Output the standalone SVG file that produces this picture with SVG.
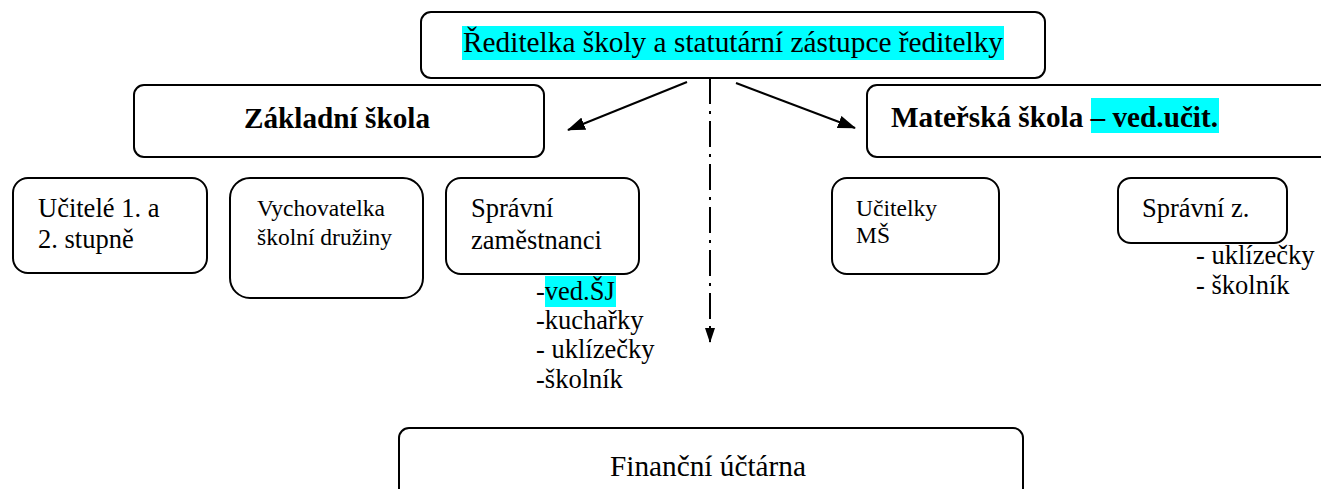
<svg xmlns="http://www.w3.org/2000/svg" width="1321" height="489" viewBox="0 0 1321 489">
<defs>
<style>
.box{fill:#fff;stroke:#000;stroke-width:2}
.t{font-family:'Liberation Serif','Times New Roman',serif;fill:#000}
.big{font-size:29.3px}
.mid{font-size:26.5px}
.sm{font-size:23.5px}
.b{font-weight:bold}
.hl{fill:#00ffff}
.con{stroke:#000;stroke-width:2;fill:none}
</style>
<marker id="ah" markerWidth="18" markerHeight="13" refX="17" refY="6.5" orient="auto" markerUnits="userSpaceOnUse" viewBox="0 0 18 13">
<path d="M0,0 L18,6.5 L0,13 z" fill="#000"/>
</marker>
<marker id="ahs" markerWidth="15" markerHeight="10" refX="14" refY="5" orient="auto" markerUnits="userSpaceOnUse" viewBox="0 0 15 10">
<path d="M0,0 L15,5 L0,10 z" fill="#000"/>
</marker>
</defs>
<rect width="1321" height="489" fill="#fff"/>
<g id="connectors">
<line class="con" x1="687" y1="82" x2="568" y2="130" marker-end="url(#ah)"/>
<line class="con" x1="736" y1="83" x2="855" y2="128" marker-end="url(#ah)"/>
<line class="con" x1="710" y1="78" x2="710" y2="342" stroke-dasharray="26,7,3,7" marker-end="url(#ahs)"/>
</g>
<g id="reditelka">
<rect class="box" x="421" y="12" width="624" height="66" rx="10"/>
<rect class="hl" x="462" y="26" width="542" height="34"/>
<text class="t big" x="463" y="52" textLength="540" lengthAdjust="spacingAndGlyphs">Ředitelka školy a statutární zástupce ředitelky</text>
</g>
<g id="zakladni">
<rect class="box" x="134" y="85" width="410" height="72" rx="10"/>
<text class="t big b" x="244" y="128" textLength="186" lengthAdjust="spacingAndGlyphs">Základní škola</text>
</g>
<g id="materska">
<rect class="box" x="867" y="85" width="470" height="72" rx="10"/>
<rect class="hl" x="1091" y="98" width="128" height="35"/>
<text class="t big b" x="891" y="127" textLength="327" lengthAdjust="spacingAndGlyphs">Mateřská škola – ved.učit.</text>
</g>
<g id="ucitele">
<rect class="box" x="13" y="178" width="194" height="95" rx="15"/>
<text class="t mid" x="38" y="217">Učitelé 1. a</text>
<text class="t mid" x="38" y="248">2. stupně</text>
</g>
<g id="vychovatelka">
<rect class="box" x="230" y="178" width="193" height="120" rx="20"/>
<text class="t sm" x="257" y="216">Vychovatelka</text>
<text class="t sm" x="257" y="245">školní družiny</text>
</g>
<g id="spravni">
<rect class="box" x="446" y="178" width="193" height="96" rx="15"/>
<text class="t mid" x="471" y="217">Správní</text>
<text class="t mid" x="471" y="249">zaměstnanci</text>
</g>
<g id="spravni-list">
<rect class="hl" x="545" y="276" width="71" height="31"/>
<text class="t mid" x="536" y="300">-ved.ŠJ</text>
<text class="t mid" x="536" y="329">-kuchařky</text>
<text class="t mid" x="536" y="358">- uklízečky</text>
<text class="t mid" x="536" y="388">-školník</text>
</g>
<g id="ucitelky">
<rect class="box" x="832" y="178" width="167" height="96" rx="15"/>
<text class="t sm" x="856" y="216">Učitelky</text>
<text class="t sm" x="856" y="243">MŠ</text>
</g>
<g id="spravniz">
<rect class="box" x="1118" y="178" width="169" height="65" rx="13"/>
<text class="t mid" x="1142" y="217">Správní z.</text>
</g>
<g id="spravniz-list">
<text class="t mid" x="1196" y="264">- uklízečky</text>
<text class="t mid" x="1196" y="294">- školník</text>
</g>
<g id="financni">
<rect class="box" x="399" y="428" width="624" height="75" rx="10"/>
<text class="t big" x="708" y="476" text-anchor="middle">Finanční účtárna</text>
</g>
</svg>
